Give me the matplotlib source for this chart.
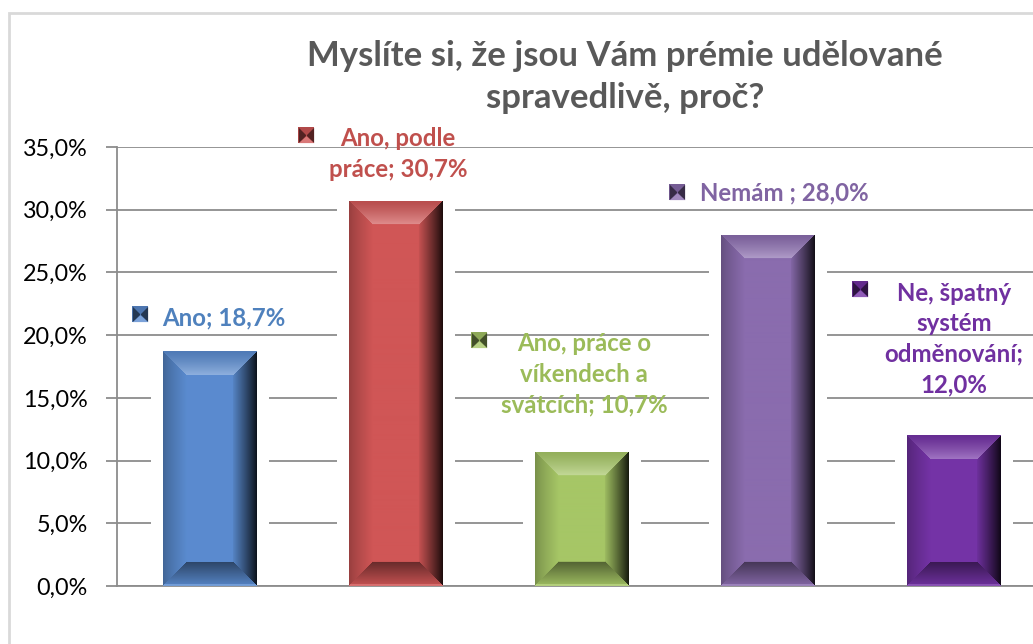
import numpy as np
import matplotlib
matplotlib.use("Agg")
import matplotlib.pyplot as plt
from matplotlib.patches import Rectangle
from matplotlib.path import Path
from matplotlib.colors import to_rgb

plt.rcParams["font.family"] = ["Lato", "DejaVu Sans"]

CATEGORIES = ["Ano", "Ano, podle práce", "Ano, práce o víkendech a svátcích",
              "Nemám", "Ne, špatný systém odměnování"]
VALUES = [18.7, 30.7, 10.7, 28.0, 12.0]
LABELS = ["Ano; 18,7%",
          "Ano, podle\npráce; 30,7%",
          "Ano, práce o\nvíkendech a\nsvátcích; 10,7%",
          "Nemám ; 28,0%",
          "Ne, špatný\nsystém\nodměnování;\n12,0%"]
YTICKS = [0, 5, 10, 15, 20, 25, 30, 35]
YTICK_LABELS = ["0,0%", "5,0%", "10,0%", "15,0%", "20,0%", "25,0%", "30,0%", "35,0%"]
TITLE = "Myslíte si, že jsou Vám prémie udělované\nspravedlivě, proč?"

BAR_COLORS = ["#5a8bcf", "#d05656", "#a6c666", "#8a6cae", "#7433a6"]
TEXT_COLORS = ["#4f81bd", "#c0504d", "#9bbb59", "#8064a2", "#7030a0"]

# label layout: (x offset from bar centre, y in %) for text and legend key
LABEL_POS = [(0.075, 21.4), (0.011, 34.45), (0.011, 16.9), (0.089, 31.3), (0.0, 19.7)]
KEY_POS = [(-0.376, 21.7), (-0.484, 35.97), (-0.554, 19.6), (-0.489, 31.4), (-0.505, 23.7)]

W_PX, H_PX = 1033, 644
GRID_COLOR = "#8c8c8c"


def shade_bar(ax, patch, color, bev=24):
    x0, y0 = patch.get_x(), patch.get_y()
    w, h = patch.get_width(), patch.get_height()
    p0 = ax.transData.transform((x0, y0))
    p1 = ax.transData.transform((x0 + w, y0 + h))
    W = int(round(p1[0] - p0[0]))
    H = int(round(p1[1] - p0[1]))
    U, V = np.meshgrid(np.arange(W) + 0.5, np.arange(H) + 0.5)
    dl, dr, dt, db = U, W - U, V, H - V
    base = np.array(to_rgb(color))
    f = np.ones((H, W))
    left = dl < bev
    f[left] = 0.72 + 0.28 * (dl[left] / bev) ** 0.8
    right = dr < bev
    f[right] = 0.12 + 0.83 * (dr[right] / bev) ** 0.9
    img = base[None, None, :] * f[..., None]

    side = np.minimum(dl, dr)
    top = (dt < bev) & (dt <= side)
    t = (dt[top] / bev)[:, None]
    lo = base * 0.88
    hi = base + (1 - base) * 0.32
    img[top] = lo + (hi - lo) * t ** 1.3

    bot = (db < bev) & (db <= side)
    t = (db[bot] / bev)[:, None]
    img[bot] = base * (0.95 - 0.45 * t)
    edge = bot & (db < 2)
    img[edge] = base + (1 - base) * 0.15
    img = np.clip(img, 0, 1)

    im = ax.imshow(img, extent=(x0, x0 + w, y0, y0 + h), origin="upper",
                   aspect="auto", interpolation="bilinear", zorder=3)
    im.set_clip_path(patch)


def draw_key(ax, x, y, color):
    base = np.array(to_rgb(color))
    ax.scatter([x], [y], marker="s", s=120, color=base * 0.85, lw=0, zorder=5, clip_on=False)
    bow = Path([(-1, -1), (0, 0), (-1, 1), (-1, -1), (1, -1), (0, 0), (1, 1), (1, -1)],
               [Path.MOVETO, Path.LINETO, Path.LINETO, Path.CLOSEPOLY,
                Path.MOVETO, Path.LINETO, Path.LINETO, Path.CLOSEPOLY])
    ax.scatter([x], [y], marker=bow, s=120, color=base * 0.4, lw=0, zorder=6, clip_on=False)
    tri = Path([(-1, -1), (1, -1), (0, -0.1), (-1, -1)],
               [Path.MOVETO, Path.LINETO, Path.LINETO, Path.CLOSEPOLY])
    ax.scatter([x], [y], marker=tri, s=120, color=base + (1 - base) * 0.2, lw=0, zorder=6, clip_on=False)


fig = plt.figure(figsize=(W_PX / 100, H_PX / 100), dpi=100)
fig.patches.append(Rectangle((9 / W_PX, -0.1), 1.2, (H_PX - 13) / H_PX + 0.1,
                             transform=fig.transFigure, fill=False,
                             edgecolor="#d9d9d9", lw=2))
ax = fig.add_axes([117 / W_PX, 58 / H_PX, 930 / W_PX, 439 / H_PX])

x = np.arange(len(VALUES))
ax.set_xlim(-0.5, len(VALUES) - 0.5)
ax.set_ylim(0, 35)
ax.set_axisbelow(True)
ax.yaxis.grid(True, color=GRID_COLOR, lw=1.3)

bars = ax.bar(x, VALUES, width=0.505, color=BAR_COLORS, zorder=2, lw=0)

# white glow around bars that breaks the gridlines
px_x = 1.0 / (ax.transData.transform((1, 0))[0] - ax.transData.transform((0, 0))[0])
px_y = 1.0 / (ax.transData.transform((0, 1))[1] - ax.transData.transform((0, 0))[1])
for b in bars:
    ax.add_patch(Rectangle((b.get_x() - 12 * px_x, 0.15), b.get_width() + 24 * px_x,
                           b.get_height() + 3 * px_y, color="white", lw=0, zorder=1.5))
    shade_bar(ax, b, b.get_facecolor())

ax.set_xlim(-0.5, len(VALUES) - 0.5)
ax.set_ylim(0, 35)

for i, (lab, col) in enumerate(zip(LABELS, TEXT_COLORS)):
    dx, ly = LABEL_POS[i]
    ax.text(i + dx, ly, lab, ha="center", va="center", multialignment="center",
            fontsize=17.3, fontweight="bold", color=col, linespacing=1.4,
            zorder=7, clip_on=False)
    kx, ky = KEY_POS[i]
    draw_key(ax, i + kx, ky, BAR_COLORS[i])

ax.set_xticks([])
ax.set_yticks(YTICKS)
ax.set_yticklabels(YTICK_LABELS)
ax.tick_params(axis="y", length=8, width=1.3, color=GRID_COLOR, labelsize=16.8,
               pad=13, labelcolor="#000000")
for s in ["top", "right"]:
    ax.spines[s].set_visible(False)
for s in ["left", "bottom"]:
    ax.spines[s].set_color(GRID_COLOR)
    ax.spines[s].set_linewidth(1.3)

fig.text(625 / W_PX, 1 - 77 / H_PX, TITLE, ha="center", va="center",
         fontsize=25, fontweight="bold", color="#595959", linespacing=1.37)

fig.savefig("out.png", dpi=100)
